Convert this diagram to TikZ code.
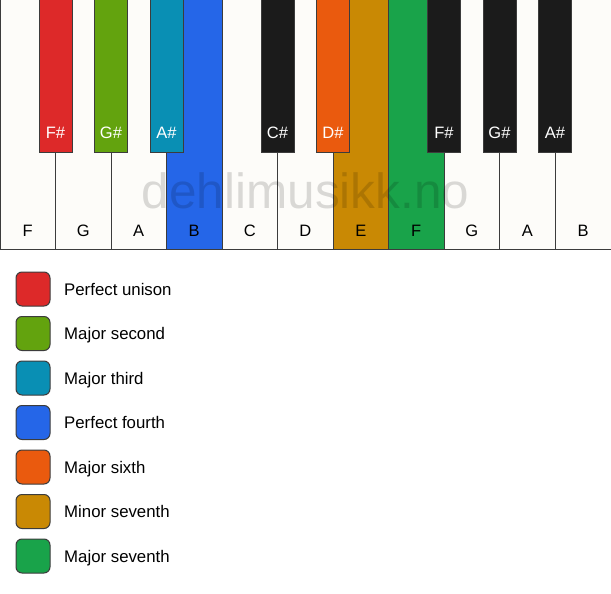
\documentclass[tikz,border=0pt]{standalone}
\usepackage{fontspec}
\setmainfont{Liberation Sans}
\definecolor{keywhite}{RGB}{253,252,249}
\definecolor{keyblack}{RGB}{27,27,27}
\definecolor{keyedge}{RGB}{60,60,60}
\definecolor{unison}{RGB}{221,41,41}
\definecolor{second}{RGB}{99,163,14}
\definecolor{third}{RGB}{9,143,180}
\definecolor{fourth}{RGB}{37,102,232}
\definecolor{sixth}{RGB}{234,90,14}
\definecolor{minseventh}{RGB}{201,137,4}
\definecolor{majseventh}{RGB}{25,163,74}
\begin{document}
\begin{tikzpicture}[x=1pt,y=-1pt,
  whitekey/.style={draw=keyedge,line width=1pt,fill=keywhite},
  blackkey/.style={draw=keyedge,line width=1pt,fill=keyblack},
  wlabel/.style={anchor=base,font=\fontsize{16.5}{19}\selectfont,text=black},
  blabel/.style={anchor=base,font=\fontsize{16.5}{19}\selectfont,text=white},
  swatch/.style={draw=keyedge,line width=1pt,rounded corners=6pt,minimum width=34pt,minimum height=34pt,inner sep=0pt},
  legendtext/.style={anchor=base west,inner sep=0pt,font=\fontsize{16.8}{19}\selectfont}]
\useasboundingbox[fill=white] (0,0) rectangle (611,594);
% white keys
\draw[whitekey] (0,0) rectangle (55.5,249);
\draw[whitekey] (55.5,0) rectangle (111,249);
\draw[whitekey] (111,0) rectangle (166.5,249);
\draw[whitekey,fill=fourth] (166.5,0) rectangle (222,249);
\draw[whitekey] (222,0) rectangle (277.5,249);
\draw[whitekey] (277.5,0) rectangle (333,249);
\draw[whitekey,fill=minseventh] (333,0) rectangle (388.5,249);
\draw[whitekey,fill=majseventh] (388.5,0) rectangle (444,249);
\draw[whitekey] (444,0) rectangle (499.5,249);
\draw[whitekey] (499.5,0) rectangle (555,249);
\draw[whitekey] (555,0) rectangle (611,249);
\node[wlabel] (lF) at (27.75,236) {F};
\node[wlabel] (lG) at (83.25,236) {G};
\node[wlabel] (lA) at (138.75,236) {A};
\node[wlabel] (lB) at (194.25,236) {B};
\node[wlabel] (lC) at (249.75,236) {C};
\node[wlabel] (lD) at (305.25,236) {D};
\node[wlabel] (lE) at (360.75,236) {E};
\node[wlabel] (lFF) at (416.25,236) {F};
\node[wlabel] (lGG) at (471.75,236) {G};
\node[wlabel] (lAA) at (527.25,236) {A};
\node[wlabel] (lBB) at (583,236) {B};
% watermark
\node[anchor=base,font=\fontsize{49.5}{58}\selectfont,text=black,text opacity=0.14] (mark) at (305.5,208) {dehlimusikk.no};
% black keys
\draw[blackkey,fill=unison] (39,0) rectangle (72,152);
\draw[blackkey,fill=second] (94.5,0) rectangle (127.5,152);
\draw[blackkey,fill=third] (150,0) rectangle (183,152);
\draw[blackkey] (261,0) rectangle (294,152);
\draw[blackkey,fill=sixth] (316.5,0) rectangle (349.5,152);
\draw[blackkey] (427.5,0) rectangle (460.5,152);
\draw[blackkey] (483,0) rectangle (516,152);
\draw[blackkey] (538.5,0) rectangle (571.5,152);
\node[blabel] (lFs) at (55.5,139) {F\#};
\node[blabel] (lGs) at (111,139) {G\#};
\node[blabel] (lAs) at (166.5,139) {A\#};
\node[blabel] (lCs) at (277.5,139) {C\#};
\node[blabel] (lDs) at (333,139) {D\#};
\node[blabel] (lFFs) at (444,139) {F\#};
\node[blabel] (lGGs) at (499.5,139) {G\#};
\node[blabel] (lAAs) at (555,139) {A\#};
% legend
\node[swatch,fill=unison] (sw1) at (33,289) {};
\node[swatch,fill=second] (sw2) at (33,333.5) {};
\node[swatch,fill=third] (sw3) at (33,378) {};
\node[swatch,fill=fourth] (sw4) at (33,422.5) {};
\node[swatch,fill=sixth] (sw5) at (33,467) {};
\node[swatch,fill=minseventh] (sw6) at (33,511.5) {};
\node[swatch,fill=majseventh] (sw7) at (33,556) {};
\node[legendtext] (tx1) at (64,295) {Perfect unison};
\node[legendtext] (tx2) at (64,339.5) {Major second};
\node[legendtext] (tx3) at (64,384) {Major third};
\node[legendtext] (tx4) at (64,428.5) {Perfect fourth};
\node[legendtext] (tx5) at (64,473) {Major sixth};
\node[legendtext] (tx6) at (64,517.5) {Minor seventh};
\node[legendtext] (tx7) at (64,562) {Major seventh};
\end{tikzpicture}
\end{document}
